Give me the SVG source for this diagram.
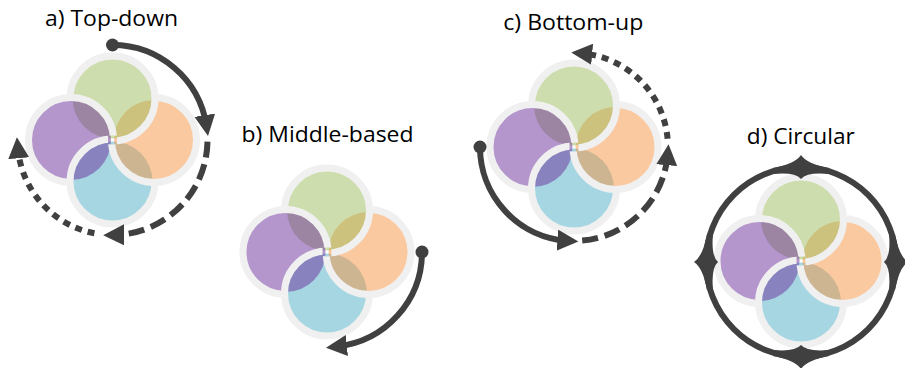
<svg xmlns="http://www.w3.org/2000/svg" width="905" height="368" viewBox="0 0 905 368">
<style>
.t{font-family:"Open Sans","Liberation Sans",sans-serif;font-size:22px;fill:#000;text-anchor:middle}
.fg{fill:#9DBB5B;fill-opacity:.5}
.fo{fill:#F59341;fill-opacity:.5}
.fb{fill:#4DADC5;fill-opacity:.5}
.fp{fill:#692D99;fill-opacity:.5}
.ring{fill:none;stroke:#f0f0f0;stroke-width:7}
.ln{fill:none;stroke:#404040;stroke-width:6}
.dash{stroke-dasharray:16 7}
.dot{stroke-dasharray:7 6}
.hd{fill:#404040}
</style>
<defs>
<marker id="ah" markerUnits="userSpaceOnUse" viewBox="0 0 21 21" markerWidth="21" markerHeight="21" refX="10" refY="10.5" orient="auto"><path d="M0,0 L21,10.5 L0,21 Z" fill="#404040"/></marker>
<mask id="mg" maskUnits="userSpaceOnUse" x="-110" y="-110" width="220" height="220"><rect x="-110" y="-110" width="220" height="220" fill="#fff"/><circle cx="-41.5" cy="0" r="46" fill="#000"/></mask>
<mask id="mo" maskUnits="userSpaceOnUse" x="-110" y="-110" width="220" height="220"><rect x="-110" y="-110" width="220" height="220" fill="#fff"/><circle cx="0" cy="-41.5" r="46" fill="#000"/></mask>
<mask id="mb" maskUnits="userSpaceOnUse" x="-110" y="-110" width="220" height="220"><rect x="-110" y="-110" width="220" height="220" fill="#fff"/><circle cx="41.5" cy="0" r="46" fill="#000"/></mask>
<mask id="mp" maskUnits="userSpaceOnUse" x="-110" y="-110" width="220" height="220"><rect x="-110" y="-110" width="220" height="220" fill="#fff"/><circle cx="0" cy="41.5" r="46" fill="#000"/></mask>
<path id="dia" class="hd" d="M-12,0 Q-3,-6 1,-28 L7,-28 Q5,-6 12,0 Q5,6 7,28 L1,28 Q-3,6 -12,0 Z"/>
</defs>

<text class="t" x="111.5" y="26" textLength="133" lengthAdjust="spacingAndGlyphs">a) Top-down</text>
<text class="t" x="327.5" y="142" textLength="172" lengthAdjust="spacingAndGlyphs">b) Middle-based</text>
<text class="t" x="573.3" y="30" textLength="140" lengthAdjust="spacingAndGlyphs">c) Bottom-up</text>
<text class="t" x="800.8" y="143.5" textLength="108" lengthAdjust="spacingAndGlyphs">d) Circular</text>

<g id="cluster-a" transform="translate(112.5,140)">
<circle class="fb" cx="0" cy="41.5" r="40"/><circle class="fo" cx="41.5" cy="0" r="40"/><circle class="fg" cx="0" cy="-41.5" r="40"/><circle class="fp" cx="-41.5" cy="0" r="40"/>
<circle class="ring" cx="0" cy="-41.5" r="42.5" mask="url(#mg)"/><circle class="ring" cx="41.5" cy="0" r="42.5" mask="url(#mo)"/><circle class="ring" cx="0" cy="41.5" r="42.5" mask="url(#mb)"/><circle class="ring" cx="-41.5" cy="0" r="42.5" mask="url(#mp)"/>
</g>
<g id="cluster-b" transform="translate(327,252)">
<circle class="fb" cx="0" cy="41.5" r="40"/><circle class="fo" cx="41.5" cy="0" r="40"/><circle class="fg" cx="0" cy="-41.5" r="40"/><circle class="fp" cx="-41.5" cy="0" r="40"/>
<circle class="ring" cx="0" cy="-41.5" r="42.5" mask="url(#mg)"/><circle class="ring" cx="41.5" cy="0" r="42.5" mask="url(#mo)"/><circle class="ring" cx="0" cy="41.5" r="42.5" mask="url(#mb)"/><circle class="ring" cx="-41.5" cy="0" r="42.5" mask="url(#mp)"/>
</g>
<g id="cluster-c" transform="translate(574,147)">
<circle class="fb" cx="0" cy="41.5" r="40"/><circle class="fo" cx="41.5" cy="0" r="40"/><circle class="fg" cx="0" cy="-41.5" r="40"/><circle class="fp" cx="-41.5" cy="0" r="40"/>
<circle class="ring" cx="0" cy="-41.5" r="42.5" mask="url(#mg)"/><circle class="ring" cx="41.5" cy="0" r="42.5" mask="url(#mo)"/><circle class="ring" cx="0" cy="41.5" r="42.5" mask="url(#mb)"/><circle class="ring" cx="-41.5" cy="0" r="42.5" mask="url(#mp)"/>
</g>
<g id="cluster-d" transform="translate(801,261)">
<circle class="fb" cx="0" cy="41.5" r="40"/><circle class="fo" cx="41.5" cy="0" r="40"/><circle class="fg" cx="0" cy="-41.5" r="40"/><circle class="fp" cx="-41.5" cy="0" r="40"/>
<circle class="ring" cx="0" cy="-41.5" r="42.5" mask="url(#mg)"/><circle class="ring" cx="41.5" cy="0" r="42.5" mask="url(#mo)"/><circle class="ring" cx="0" cy="41.5" r="42.5" mask="url(#mb)"/><circle class="ring" cx="-41.5" cy="0" r="42.5" mask="url(#mp)"/>
</g>

<g id="connectors">
<path class="ln" d="M112.5,45 A95,95 0 0 1 206.3,125.1" marker-end="url(#ah)"/>
<circle class="hd" cx="112.5" cy="45" r="6.5"/>
<path class="ln dash" d="M207.49,141.66 A95,95 0 0 1 114.16,234.99" marker-end="url(#ah)"/>
<path class="ln dot" d="M94.4,233.3 A95,95 0 0 1 17.86,148.28" marker-end="url(#ah)"/>

<path class="ln" d="M422,252 A95,95 0 0 1 336.9,346.5" marker-end="url(#ah)"/>
<circle class="hd" cx="422" cy="252" r="6.5"/>

<path class="ln" d="M480,147 A94,94 0 0 0 567.4,240.8" marker-end="url(#ah)"/>
<circle class="hd" cx="480" cy="147" r="6.5"/>
<path class="ln dash" d="M582.2,240.6 A94,94 0 0 0 667.6,155.2" marker-end="url(#ah)"/>
<path class="ln dot" d="M667.6,138.8 A94,94 0 0 0 582.2,53.4" marker-end="url(#ah)"/>

<circle class="ln" cx="801" cy="262" r="95"/>
<use href="#dia" transform="translate(706,262)"/>
<use href="#dia" transform="translate(896,262) rotate(180)"/>
<use href="#dia" transform="translate(801,167) rotate(90)"/>
<use href="#dia" transform="translate(801,357) rotate(-90)"/>
</g>
</svg>
